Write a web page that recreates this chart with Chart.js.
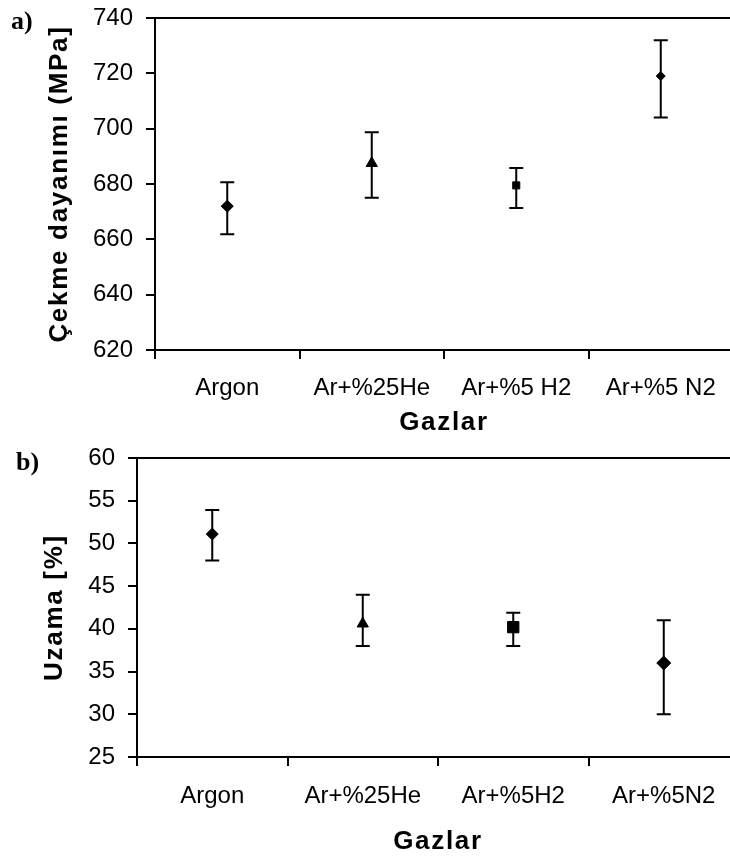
<!DOCTYPE html>
<html>
<head>
<meta charset="utf-8">
<script src="https://cdn.jsdelivr.net/npm/chart.js@4.4.1/dist/chart.umd.min.js"></script>
<style>
  html, body { margin: 0; padding: 0; background: #fff; overflow: hidden; }
  #wrap { position: relative; width: 730px; height: 858px; overflow: hidden; }
  canvas { position: absolute; left: 0; }
  #chartA { top: 0; }
  #chartB { top: 440px; }
  .tag { position: absolute; font: bold 26px "Liberation Serif", serif; color: #000; line-height: 1; }
</style>
</head>
<body>
<div id="wrap">
  <canvas id="chartA" width="740" height="440"></canvas>
  <canvas id="chartB" width="747" height="418"></canvas>
  <div class="tag" style="left:11px; top:8px;">a)</div>
  <div class="tag" style="left:16px; top:449px;">b)</div>
</div>
<script>
// a) tensile strength
const gasesA = ['Argon', 'Ar+%25He', 'Ar+%5 H2', 'Ar+%5 N2'];
const strength = [672, 687.5, 679.5, 719];
const strengthHigh = [680.6, 698.7, 685.8, 732];
const strengthLow = [661.8, 675, 671.3, 704];

// b) elongation
const gasesB = ['Argon', 'Ar+%25He', 'Ar+%5H2', 'Ar+%5N2'];
const elongation = [51.1, 40.6, 40.2, 36];
const elongationHigh = [53.9, 44, 41.9, 41];
const elongationLow = [48, 38, 38, 30];

const tickFont = { family: 'Liberation Sans', size: 24 };
const titleFont = { family: 'Liberation Sans', size: 26, weight: 'bold' };

// error bars + top frame line, drawn under the markers
const errorBars = {
    id: 'errorBars',
    beforeDatasetsDraw(chart, args, opts) {
        const ctx = chart.ctx;
        const y = chart.scales.y;
        const pts = chart.getDatasetMeta(0).data;
        ctx.save();
        ctx.strokeStyle = '#000';
        ctx.lineWidth = 2;
        ctx.beginPath();
        pts.forEach((p, i) => {
            const top = y.getPixelForValue(opts.high[i]);
            const bot = y.getPixelForValue(opts.low[i]);
            ctx.moveTo(p.x, top); ctx.lineTo(p.x, bot);
            ctx.moveTo(p.x - 7, top); ctx.lineTo(p.x + 7, top);
            ctx.moveTo(p.x - 7, bot); ctx.lineTo(p.x + 7, bot);
        });
        const a = chart.chartArea;
        ctx.moveTo(a.left, a.top); ctx.lineTo(a.right, a.top);
        ctx.stroke();
        ctx.restore();
    }
};

// the bold axis titles in the picture are a bit spaced out
function spaceTitle(s) {
    if (s._spaced) return;
    const orig = s.drawTitle;
    s.drawTitle = function () {
        this.ctx.letterSpacing = '1.7px';
        orig.call(this);
        this.ctx.letterSpacing = '0px';
    };
    s._spaced = true;
}

function makeChart(id, cfg) {
    return new Chart(document.getElementById(id), {
        type: 'line',
        data: {
            labels: cfg.labels,
            datasets: [{
                data: cfg.values,
                showLine: false,
                pointStyle: cfg.styles,
                pointRadius: cfg.radii,
                pointBackgroundColor: '#000',
                pointBorderColor: '#000',
                pointBorderWidth: 1
            }]
        },
        options: {
            responsive: false,
            animation: false,
            layout: { padding: { top: cfg.top, left: 0, right: 2, bottom: 0 } },
            plugins: {
                legend: { display: false },
                tooltip: { enabled: false },
                errorBars: { high: cfg.high, low: cfg.low }
            },
            scales: {
                x: {
                    offset: true,
                    grid: { offset: true, drawOnChartArea: false, tickLength: 9, color: '#000', lineWidth: 2 },
                    border: { display: true, color: '#000', width: 2 },
                    ticks: { color: '#000', font: tickFont, padding: cfg.xTickPad, maxRotation: 0, autoSkip: false },
                    title: { display: true, text: 'Gazlar', color: '#000', font: titleFont, padding: { top: 0, bottom: cfg.xTitlePad } },
                    afterFit: s => { s.height = cfg.xHeight; s.paddingLeft = 0; s.paddingRight = 0; spaceTitle(s); }
                },
                y: {
                    min: cfg.min,
                    max: cfg.max,
                    grid: { drawOnChartArea: false, tickLength: 9, color: '#000', lineWidth: 2 },
                    border: { display: true, color: '#000', width: 2 },
                    ticks: { stepSize: cfg.step, color: '#000', font: tickFont, padding: 13 },
                    title: { display: true, text: cfg.yTitle, color: '#000', font: titleFont, padding: { top: cfg.yTitlePad, bottom: 0 } },
                    afterFit: s => { s.width = cfg.yWidth; s.paddingTop = 0; s.paddingBottom = 0; spaceTitle(s); }
                }
            }
        },
        plugins: [errorBars]
    });
}

makeChart('chartA', {
    labels: gasesA, values: strength, high: strengthHigh, low: strengthLow,
    styles: ['rectRot', 'triangle', 'rect', 'rectRot'],
    radii: [6, 6.5, 5, 4.5],
    min: 620, max: 740, step: 20,
    yTitle: 'Çekme dayanımı (MPa]',
    top: 18, yWidth: 155, xHeight: 90, xTickPad: 15, xTitlePad: 2, yTitlePad: 44
});

makeChart('chartB', {
    labels: gasesB, values: elongation, high: elongationHigh, low: elongationLow,
    styles: ['rectRot', 'triangle', 'rect', 'rectRot'],
    radii: [6, 6.5, 8, 7],
    min: 25, max: 60, step: 5,
    yTitle: 'Uzama [%]',
    top: 18, yWidth: 137, xHeight: 101, xTickPad: 16, xTitlePad: 1, yTitlePad: 39
});
</script>
</body>
</html>
